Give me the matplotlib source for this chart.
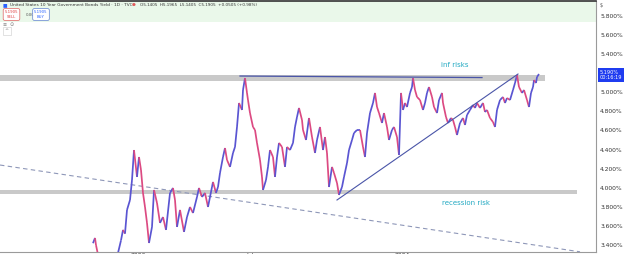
import matplotlib
matplotlib.use("Agg")
import matplotlib.pyplot as plt
from matplotlib.collections import LineCollection
from matplotlib.patches import Rectangle
import numpy as np

# ---- data (session index, close yield in %) ----
days = [93, 95, 96, 98, 102, 106, 110, 114, 117, 118, 121, 123, 125, 127, 130, 132, 134, 137, 139, 141,
        143, 145, 147, 149, 152, 154, 157, 160, 163, 166, 170, 173, 175, 177, 180, 184, 187, 190, 193, 197,
        199, 202, 205, 208, 212, 213, 216, 218, 220, 223, 225, 227, 230, 233, 235, 237, 239, 242, 243, 245,
        247, 248, 250, 253, 255, 257, 260, 262, 263, 266, 268, 270, 273, 275, 277, 279, 282, 285, 287, 290,
        293, 295, 297, 299, 302, 303, 306, 309, 312, 315, 317, 320, 323, 325, 327, 329, 332, 334, 337, 339,
        342, 344, 347, 349, 352, 354, 357, 360, 363, 365, 367, 370, 373, 375, 377, 379, 382, 384, 387, 389,
        392, 394, 397, 399, 401, 403, 405, 407, 410, 412, 413, 415, 417, 420, 423, 425, 427, 429, 432, 434,
        437, 439, 442, 443, 446, 448, 451, 453, 455, 457, 460, 463, 465, 467, 470, 473, 475, 477, 480, 483,
        485, 487, 490, 493, 495, 497, 500, 503, 505, 507, 510, 513, 515, 517, 519, 522, 524, 527, 529, 531,
        533, 534, 536, 537, 539]
closes = [3.42, 3.475, 3.40, 3.30, 3.25, 3.20, 3.22, 3.28, 3.31, 3.318, 3.45, 3.559, 3.52, 3.768, 3.872, 4.081, 4.395, 4.113, 4.322, 4.186,
          3.946, 3.799, 3.632, 3.422, 3.590, 3.977, 3.841, 3.632, 3.694, 3.559, 3.946, 3.998, 3.872, 3.590, 3.768, 3.538, 3.694, 3.799, 3.736, 3.904,
          3.998, 3.904, 3.946, 3.799, 4.008, 4.061, 3.946, 4.008, 4.155, 4.322, 4.416, 4.291, 4.218, 4.364, 4.427, 4.636, 4.887, 4.814, 5.023, 5.148,
          4.992, 4.918, 4.782, 4.636, 4.605, 4.469, 4.291, 4.113, 3.977, 4.081, 4.218, 4.395, 4.322, 4.113, 4.322, 4.469, 4.427, 4.218, 4.427, 4.395,
          4.469, 4.636, 4.740, 4.835, 4.709, 4.605, 4.500, 4.730, 4.531, 4.364, 4.500, 4.636, 4.395, 4.531, 4.364, 4.008, 4.218, 4.155, 4.050, 3.925,
          4.008, 4.113, 4.259, 4.395, 4.500, 4.573, 4.605, 4.605, 4.427, 4.322, 4.573, 4.782, 4.887, 4.992, 4.845, 4.782, 4.678, 4.782, 4.636, 4.500,
          4.605, 4.636, 4.531, 4.343, 4.992, 4.814, 4.887, 4.845, 4.992, 5.054, 5.148, 5.023, 4.950, 4.918, 4.814, 4.887, 4.992, 5.054, 4.950, 4.845,
          4.782, 4.918, 4.992, 4.887, 4.740, 4.678, 4.730, 4.709, 4.636, 4.552, 4.678, 4.730, 4.657, 4.761, 4.814, 4.866, 4.835, 4.887, 4.835, 4.887,
          4.793, 4.814, 4.730, 4.688, 4.636, 4.814, 4.918, 4.950, 4.887, 4.939, 4.918, 5.023, 5.096, 5.180, 5.054, 4.992, 5.023, 4.918, 4.845, 4.992,
          5.054, 5.127, 5.096, 5.159, 5.190]

y_ticks = [3.4, 3.6, 3.8, 4.0, 4.2, 4.4, 4.6, 4.8, 5.0, 5.4, 5.6, 5.8]
x_tick_pos = [138, 250, 402]
x_tick_labels = ["2023", "Jul", "2024"]

# zones & drawings (session, yield)
upper_zone = (5.117, 5.180, 545)
lower_zone = (3.935, 3.977, 577)
top_line = [(240, 5.169), (482, 5.153)]
up_trend = [(337, 3.872), (518, 5.190)]
dashed_trend = [(0, 4.238), (580, 3.330)]
last_price = 5.190

UP = "#5a55d2"
DOWN = "#dc4a82"
TEAL = "#22a9c2"

fig = plt.figure(figsize=(6.25, 2.54), dpi=100)
ax = fig.add_axes([0, 2 / 254, 596 / 625, 251 / 254])
ax.set_xlim(0, 596)
ax.set_ylim(3.328, 5.954)

# header tint
ax.add_patch(Rectangle((0, 0.915), 1, 0.085, transform=ax.transAxes,
                       facecolor="#eaf8ea", edgecolor="none", zorder=0))

# zones
for lo, hi, xe in (upper_zone, lower_zone):
    ax.add_patch(Rectangle((0, lo), xe, hi - lo, facecolor="#c9c9c9",
                           edgecolor="none", zorder=1))

# price path coloured by direction
pts = np.column_stack([days, closes])
segs = np.stack([pts[:-1], pts[1:]], axis=1)
cols = [UP if closes[i + 1] >= closes[i] else DOWN for i in range(len(closes) - 1)]
ax.add_collection(LineCollection(segs, colors=cols, linewidths=1.25, zorder=3))

# drawings
ax.plot(*zip(*top_line), color="#4a55a8", lw=0.9, zorder=4)
ax.plot(*zip(*up_trend), color="#4a55a8", lw=0.8, zorder=4)
ax.plot(*zip(*dashed_trend), color="#8e97b8", lw=0.8, ls=(0, (4, 3)), zorder=2)

ax.text(455, 5.28, "inf risks", color=TEAL, fontsize=5, ha="center", va="center", zorder=5)
ax.text(466, 3.845, "recession risk", color=TEAL, fontsize=5, ha="center", va="center", zorder=5)

# axes styling
ax.yaxis.tick_right()
ax.set_yticks(y_ticks)
ax.set_yticklabels([f"{v:.3f}%" for v in y_ticks], fontsize=4.3, color="#333333")
ax.tick_params(axis="y", length=0, pad=3)
ax.set_xticks(x_tick_pos)
ax.set_xticklabels(x_tick_labels, fontsize=4.3, color="#333333")
ax.tick_params(axis="x", length=0, pad=1)
ax.spines["left"].set_visible(False)
ax.spines["right"].set_color("#9a9a9a")
ax.spines["right"].set_linewidth(0.8)
ax.spines["bottom"].set_color("#9a9a9a")
ax.spines["bottom"].set_linewidth(0.8)
ax.spines["top"].set_color("#333333")
ax.spines["top"].set_linewidth(1.2)

# last price label
ax.annotate(f"{last_price:.3f}%\n00:16:19", xy=(1.0, last_price),
            xycoords=("axes fraction", "data"), xytext=(2.5, -0.5),
            textcoords="offset points", ha="left", va="center",
            fontsize=3.6, color="white", linespacing=1.1, zorder=10,
            bbox=dict(boxstyle="square,pad=0.35", fc="#1f3cf0", ec="none"),
            annotation_clip=False)

# legend area
fig.text(3 / 625, 1 - 5 / 254, "\u25a0", fontsize=3.5, color="#2962ff", va="center")
fig.text(10 / 625, 1 - 5 / 254, "United States 10 Year Government Bonds Yield \u00b7 1D \u00b7 TVC",
         fontsize=3.1, color="#333333", va="center")
fig.text(132 / 625, 1 - 5 / 254, "\u25cf", fontsize=3.2, color="#e05a5a", va="center")
fig.text(140 / 625, 1 - 5 / 254, "O5.1405  H5.1965  L5.1405  C5.1905  +0.0505 (+0.98%)",
         fontsize=3.0, color="#333333", va="center")
fig.text(11.5 / 625, 1 - 14.5 / 254, "5.1905\nSELL", fontsize=2.8, color="#e04040",
         ha="center", va="center", linespacing=1.2,
         bbox=dict(boxstyle="round,pad=0.4", fc="white", ec="#e06060", lw=0.5))
fig.text(26 / 625, 1 - 14.5 / 254, "0.00", fontsize=2.8, color="#555555", va="center")
fig.text(41 / 625, 1 - 14.5 / 254, "5.1905\nBUY", fontsize=2.8, color="#2962ff",
         ha="center", va="center", linespacing=1.2,
         bbox=dict(boxstyle="round,pad=0.4", fc="white", ec="#6080d0", lw=0.5))
fig.text(3 / 625, 1 - 24 / 254, "\u2261  \u2299", fontsize=3.5, color="#777777", va="center")
fig.text(7 / 625, 1 - 31 / 254, "^", fontsize=3.5, color="#777777", va="center", ha="center",
         bbox=dict(boxstyle="square,pad=0.3", fc="white", ec="#cccccc", lw=0.4))
fig.text(600 / 625, 1 - 5 / 254, "$", fontsize=3.5, color="#555555", va="center")

fig.savefig("out.png", dpi=100)
